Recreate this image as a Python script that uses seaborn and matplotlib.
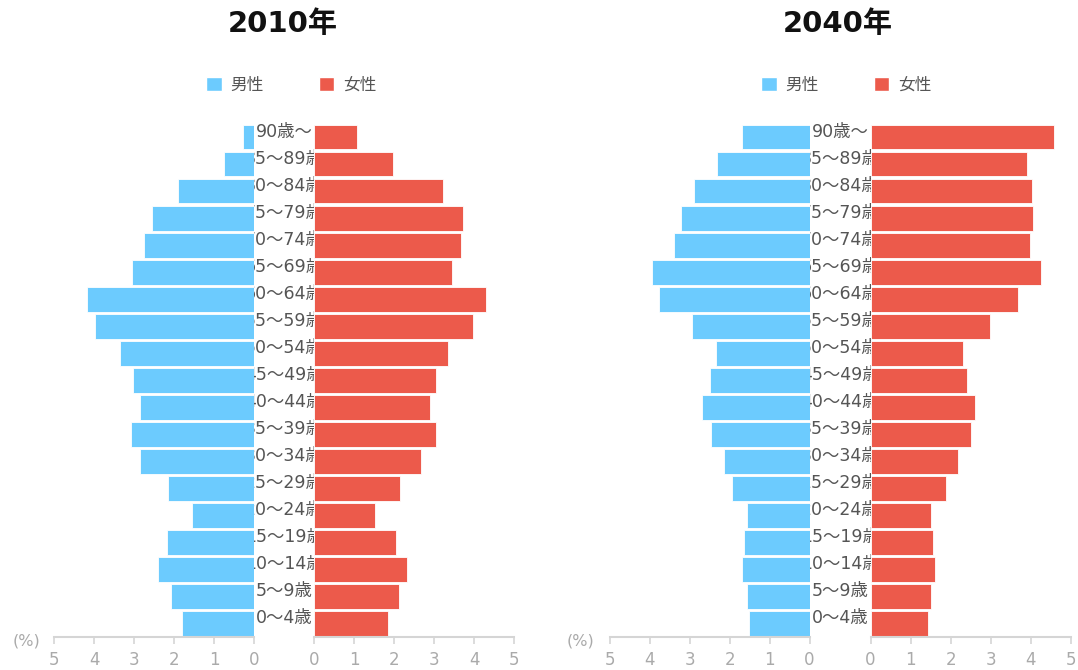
import matplotlib.pyplot as plt
import numpy as np
import pandas as pd
import seaborn as sns
from matplotlib.patches import Patch
from matplotlib.transforms import Bbox, TransformedBbox, blended_transform_factory

sns.set_style('white')
plt.rcParams['font.family'] = ['DejaVu Sans', 'Noto Sans CJK JP']

# Age groups, top to bottom
ages = ['90歳～', '85～89歳', '80～84歳', '75～79歳', '70～74歳', '65～69歳',
        '60～64歳', '55～59歳', '50～54歳', '45～49歳', '40～44歳', '35～39歳',
        '30～34歳', '25～29歳', '20～24歳', '15～19歳', '10～14歳', '5～9歳', '0～4歳']

# Share of population (%)
male_2010 = [0.29, 0.75, 1.90, 2.55, 2.77, 3.05, 4.18, 3.98, 3.36, 3.04,
             2.85, 3.09, 2.85, 2.16, 1.57, 2.18, 2.41, 2.08, 1.81]
female_2010 = [1.07, 1.97, 3.23, 3.73, 3.68, 3.45, 4.29, 3.98, 3.36, 3.06,
               2.90, 3.05, 2.67, 2.15, 1.53, 2.04, 2.33, 2.13, 1.84]
male_2040 = [1.69, 2.32, 2.89, 3.22, 3.39, 3.94, 3.76, 2.93, 2.35, 2.50,
             2.69, 2.46, 2.14, 1.95, 1.57, 1.65, 1.69, 1.57, 1.51]
female_2040 = [4.59, 3.90, 4.04, 4.07, 3.98, 4.26, 3.68, 2.99, 2.32, 2.42,
               2.61, 2.50, 2.18, 1.88, 1.51, 1.56, 1.60, 1.51, 1.43]

titles = ['2010年', '2040年']
sex_labels = ['男性', '女性']

BLUE = '#6CCBFE'
RED = '#EC5A4B'
W, H = 1078, 670

fig = plt.figure(figsize=(10.78, 6.70), dpi=100)

bottom = 1 - 637 / H
height = (637 - 123.5) / H
width = 200 / W

# pixel layout of each panel: male axis left, female axis left, title x, legend x, (%) x
panels = [
    (titles[0], male_2010, female_2010, 54.4, 314.0, 283, 291, 27),
    (titles[1], male_2040, female_2040, 609.6, 870.6, 838, 846, 581),
]


def style_axis(ax):
    for side in ['left', 'right', 'top']:
        ax.spines[side].set_visible(False)
    ax.spines['bottom'].set_color('#d5d5d5')
    ax.spines['bottom'].set_linewidth(1.5)
    ax.set_yticks([])
    ax.set_xticks(range(6))
    ax.tick_params(axis='x', bottom=True, direction='out', length=5, width=1.2,
                   color='#d5d5d5', labelcolor='#aaaaaa', labelsize=12, pad=5)
    ax.set_xlabel('')
    ax.set_ylabel('')
    ax.set_facecolor('none')


for title, male, female, xm, xf, tx, lx, px in panels:
    df = pd.DataFrame({'age': ages, 'male': male, 'female': female})

    ax_m = fig.add_axes([xm / W, bottom, width, height])
    sns.barplot(data=df, x='male', y='age', orient='h', color=BLUE, saturation=1,
                width=0.92, edgecolor='white', linewidth=0.6, ax=ax_m)
    ax_m.set_xlim(5, 0)
    style_axis(ax_m)

    ax_f = fig.add_axes([xf / W, bottom, width, height])
    sns.barplot(data=df, x='female', y='age', orient='h', color=RED, saturation=1,
                width=0.92, edgecolor='white', linewidth=0.6, ax=ax_f)
    ax_f.set_xlim(0, 5)
    style_axis(ax_f)

    # age labels in the gap, clipped to it
    gap_l = (xm + 200) / W
    gap_r = xf / W
    clip = TransformedBbox(Bbox.from_extents(gap_l, 0, gap_r, 1), fig.transFigure)
    trans = blended_transform_factory(fig.transFigure, ax_f.transData)
    for i, lab in enumerate(ages):
        t = ax_f.text((gap_l + gap_r) / 2, i - 0.2, lab, transform=trans, ha='center',
                      va='center', fontsize=12.5, color='#555555', clip_on=True)
        t.set_clip_box(clip)

    fig.text(tx / W, 1 - 24 / H, title, ha='center', va='center',
             fontsize=21, fontweight='bold', color='#111111')
    fig.text(px / W, 1 - 641 / H, '(%)', ha='center', va='center',
             fontsize=11.5, color='#aaaaaa')

    handles = [Patch(facecolor=BLUE, label=sex_labels[0]),
               Patch(facecolor=RED, label=sex_labels[1])]
    fig.legend(handles=handles, loc='center', bbox_to_anchor=(lx / W, 1 - 85 / H),
               ncol=2, frameon=False, fontsize=12, handlelength=0.95,
               handleheight=0.95, handletextpad=0.5, columnspacing=3.3,
               labelcolor='#555555')

fig.savefig('out.png', dpi=100)
